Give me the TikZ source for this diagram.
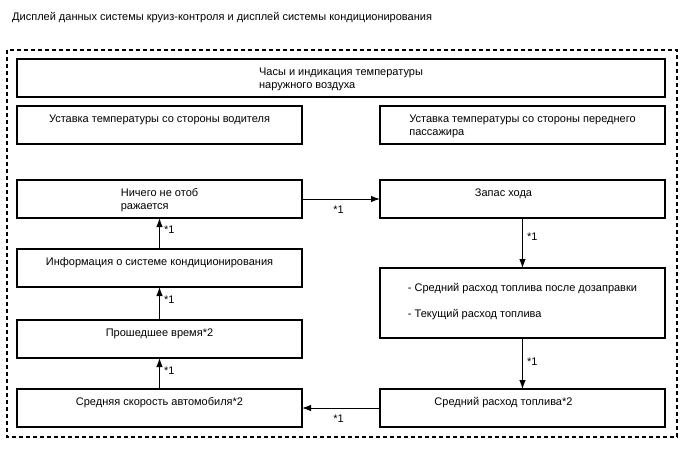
\documentclass[tikz,border=0pt]{standalone}
\usepackage{fontspec}
\setmainfont{Liberation Sans}
\usetikzlibrary{arrows.meta, positioning}
\tikzset{
  box/.style={draw=black, rectangle, align=center, line width=1.3pt, outer sep=0pt, minimum width=285pt, minimum height=38pt, inner ysep=8.5pt, text height=8pt, text depth=13pt, anchor=north west, font=\fontsize{11}{13}\selectfont},
  twoline/.style={align=left, text height=21pt, text depth=0pt},
  widebox/.style={box, minimum width=648pt},
  arrow/.style={-{Latex[length=9pt, width=6.5pt]}, line width=1pt, draw=black},
  note/.style={font=\fontsize{11}{13}\selectfont, inner sep=2pt},
  frame/.style={draw=black, dash pattern=on 4pt off 3pt, line width=1.1pt}
}
\begin{document}
\begin{tikzpicture}[x=1pt, y=1pt, node distance=9pt and 78pt]

\useasboundingbox (0,0) rectangle (688,-463);

\node[note, anchor=base west] (title) at (10,-20) {Дисплей данных системы круиз-контроля и дисплей системы кондиционирования};

\draw[frame] (7,-50) rectangle (677,-437);

\node[widebox, twoline] (clock) at (17,-59) {Часы и индикация температуры\\наружного воздуха};

\node[box, below=9pt of clock.south west, anchor=north west] (driver) {Уставка температуры со стороны водителя};
\node[box, twoline, right=78pt of driver.north east, anchor=north west] (pass) {Уставка температуры со стороны переднего\\пассажира};

\node[box, twoline, below=36pt of driver.south west, anchor=north west] (blank) {Ничего не отоб\\ражается};
\node[box, right=78pt of blank.north east, anchor=north west] (range) {Запас хода\hspace*{38pt}};

\node[box, below=31pt of blank.south west, anchor=north west] (climate) {Информация о системе кондиционирования};
\node[box, align=left, minimum height=70pt, text height=40.5pt, text depth=12.5pt, below=50pt of range.south west, anchor=north west] (fuel) {- Средний расход топлива после дозаправки\\[13pt]- Текущий расход топлива};

\node[box, below=33pt of climate.south west, anchor=north west] (time) {Прошедшее время*2};

\node[box, below=31pt of time.south west, anchor=north west] (speed) {Средняя скорость автомобиля*2};
\node[box, right=78pt of speed.north east, anchor=north west] (avgfuel) {Средний расход топлива*2\hspace*{38pt}};

\draw[arrow] (blank.east) -- node[note, pos=0.47, below=4pt] {*1} (range.west);
\draw[arrow] (range.south) -- node[note, pos=0.38, right=2pt] {*1} (fuel.north);
\draw[arrow] (fuel.south) -- node[note, pos=0.46, right=2pt] {*1} (avgfuel.north);
\draw[arrow] (avgfuel.west) -- node[note, pos=0.53, below=4pt] {*1} (speed.east);
\draw[arrow] (speed.north) -- node[note, pos=0.58, right=2pt] {*1} (time.south);
\draw[arrow] (time.north) -- node[note, pos=0.62, right=2pt] {*1} (climate.south);
\draw[arrow] (climate.north) -- node[note, pos=0.62, right=2pt] {*1} (blank.south);

\end{tikzpicture}
\end{document}
